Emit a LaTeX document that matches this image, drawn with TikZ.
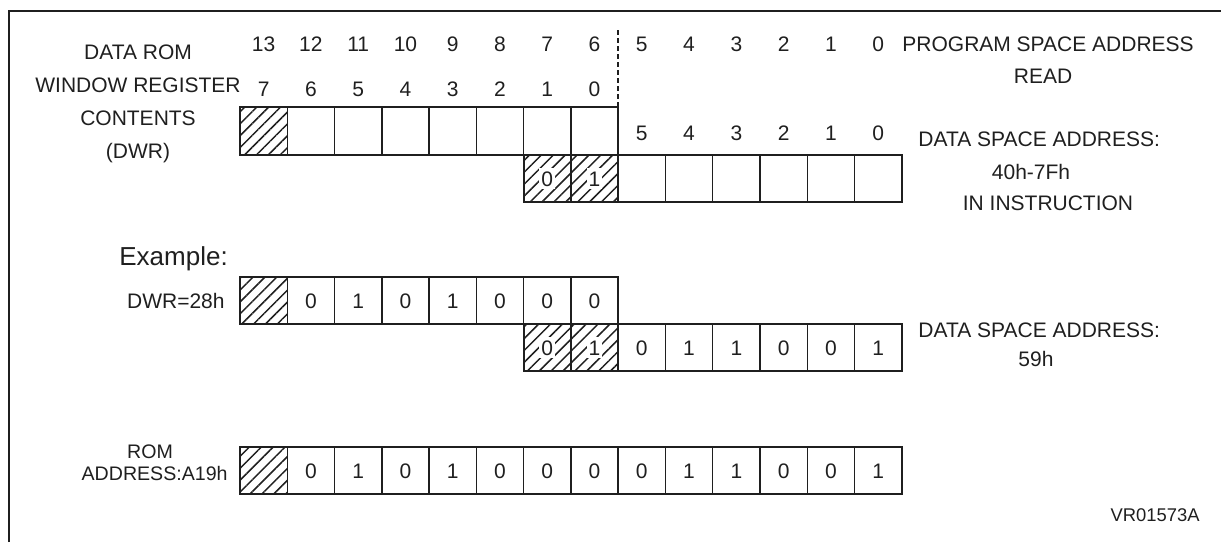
\documentclass[tikz,border=0pt]{standalone}
\usepackage{fontspec}
\setmainfont{Liberation Sans}
\usetikzlibrary{patterns.meta}
\definecolor{ink}{rgb}{0.12,0.12,0.12}
\newcommand\mainsz{\fontsize{10.5}{12}\selectfont}
\tikzset{
  thincell/.style={draw=ink, line width=0.7pt},
  outerbox/.style={draw=ink, line width=1.1pt},
  hatchfill/.style={pattern={Lines[angle=45,distance=4.2pt,line width=0.75pt]}, pattern color=ink},
  txt/.style={font=\mainsz, text=ink, inner sep=0pt, text height=7.5pt, text depth=0pt},
  romtxt/.style={font=\fontsize{9.8}{11}\selectfont, text=ink, inner sep=0pt, text height=7pt, text depth=0pt},
  bitlbl/.style={txt},
  hbit/.style={txt, fill=white, inner xsep=1pt, inner ysep=1.5pt},
  bigtxt/.style={font=\fontsize{13}{15}\selectfont, text=ink, inner sep=0pt, text height=9.3pt, text depth=0pt},
  smalltxt/.style={font=\fontsize{9.2}{11}\selectfont, text=ink, inner sep=0pt, text height=6.6pt, text depth=0pt},
  frame/.style={draw=ink, line width=1pt},
  sepline/.style={draw=ink, line width=0.7pt, dash pattern=on 2.5pt off 1.5pt}
}
\begin{document}
\begin{tikzpicture}[x=0.5pt,y=-0.5pt]
\useasboundingbox (0,0) rectangle (1221,542);
\def\W{47.27}
% frame
\coordinate (fbl) at (9,542);
\coordinate (ftl) at (9,10.5);
\coordinate (ftr) at (1221,10.5);
\draw[frame] (fbl) -- (ftl) -- (ftr);

% ---------- upper register ----------
% row 1 (DWR), 8 cells from x=240, y 107-155
\fill[hatchfill] (240,107) rectangle ++(\W,48);
\foreach \i in {0,...,7} \draw[thincell] ({240+\i*\W},107) rectangle ++(\W,48);
\draw[outerbox] (240,107) rectangle ({240+8*\W},155);
% row 2 (instruction), 8 cells from x=524, y 155-202
\fill[hatchfill] ({240+6*\W},155) rectangle ++({2*\W},47);
\foreach \i in {0,...,7} \draw[thincell] ({240+(6+\i)*\W},155) rectangle ++(\W,47);
\draw[outerbox] ({240+6*\W},155) rectangle ({240+14*\W},202);
\node[hbit] (u2b0) at ({240+6.5*\W},178.5) {0};
\node[hbit] (u2b1) at ({240+7.5*\W},178.5) {1};

% dashed separator
\coordinate (dtop) at ({240+8*\W},30);
\coordinate (dbot) at ({240+8*\W},107);
\draw[sepline] (dtop) -- (dbot);

% bit numbers
\foreach \n [count=\k from 0] in {13,12,11,10,9,8,7,6,5,4,3,2,1,0}
  \node[txt] (pn\n) at ({240+(\k+0.5)*\W},44) {\n};
\foreach \n [count=\k from 0] in {7,6,5,4,3,2,1,0}
  \node[txt] (dn\n) at ({240+(\k+0.5)*\W},89) {\n};
\foreach \n [count=\k from 8] in {5,4,3,2,1,0}
  \node[txt] (in\n) at ({240+(\k+0.5)*\W},133) {\n};

% labels upper
\node[txt] (l1) at (138,52) {DATA ROM};
\node[txt] (l2) at (138,85) {WINDOW REGISTER};
\node[txt] (l3) at (138,118) {CONTENTS};
\node[txt] (l4) at (138,151) {(DWR)};
\node[txt, anchor=west] (psa) at (902,44) {PROGRAM SPACE ADDRESS};
\node[txt] (rd) at (1043,76) {READ};
\node[txt, anchor=west] (dsa1) at (918,139) {DATA SPACE ADDRESS:};
\node[txt] (r40) at (1031,172) {40h-7Fh};
\node[txt] (ins) at (1048,203) {IN INSTRUCTION};

% ---------- example ----------
\node[bigtxt, anchor=west] (ex) at (119,256) {Example:};
\node[txt, anchor=east] (dwr28) at (225,301) {DWR=28h};
\fill[hatchfill] (240,277) rectangle ++(\W,47);
\foreach \i in {0,...,7} \draw[thincell] ({240+\i*\W},277) rectangle ++(\W,47);
\draw[outerbox] (240,277) rectangle ({240+8*\W},324);
\foreach \v [count=\k from 1] in {0,1,0,1,0,0,0}
  \node[bitlbl] (e1b\k) at ({240+(\k+0.5)*\W},300.5) {\v};
\fill[hatchfill] ({240+6*\W},324) rectangle ++({2*\W},47);
\foreach \i in {0,...,7} \draw[thincell] ({240+(6+\i)*\W},324) rectangle ++(\W,47);
\draw[outerbox] ({240+6*\W},324) rectangle ({240+14*\W},371);
\node[hbit] (e2h0) at ({240+6.5*\W},347.5) {0};
\node[hbit] (e2h1) at ({240+7.5*\W},347.5) {1};
\foreach \v [count=\k from 8] in {0,1,1,0,0,1}
  \node[bitlbl] (e2b\k) at ({240+(\k+0.5)*\W},347.5) {\v};
\node[txt, anchor=west] (dsa2) at (918,330) {DATA SPACE ADDRESS:};
\node[txt] (h59) at (1036,359) {59h};

% ---------- ROM address ----------
\node[romtxt] (rom) at (150,451) {ROM};
\node[romtxt, anchor=east] (romad) at (228,473) {ADDRESS:A19h};
\fill[hatchfill] (240,447) rectangle ++(\W,47);
\foreach \i in {0,...,13} \draw[thincell] ({240+\i*\W},447) rectangle ++(\W,47);
\draw[outerbox] (240,447) rectangle ({240+14*\W},494);
\foreach \v [count=\k from 1] in {0,1,0,1,0,0,0,0,1,1,0,0,1}
  \node[bitlbl] (rb\k) at ({240+(\k+0.5)*\W},470.5) {\v};

\node[smalltxt, anchor=east] (vr) at (1200,515) {VR01573A};
\end{tikzpicture}
\end{document}
